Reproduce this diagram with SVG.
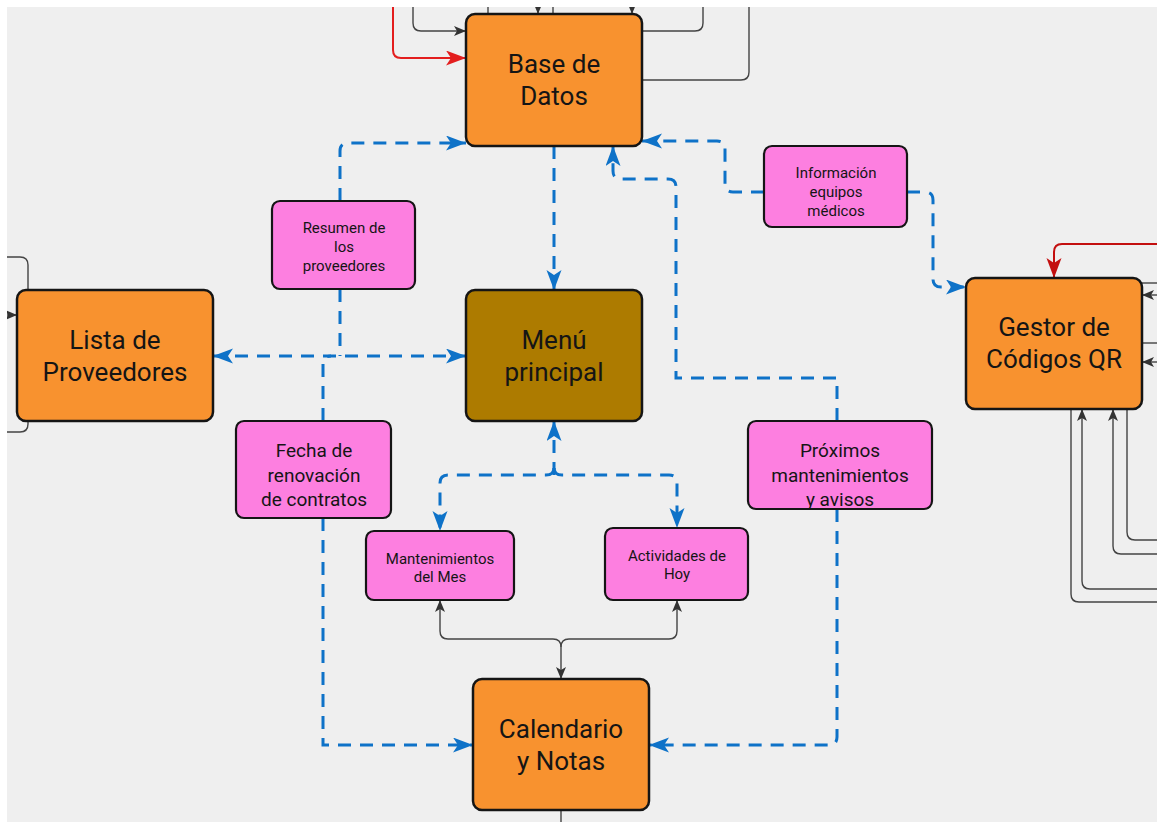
<svg xmlns="http://www.w3.org/2000/svg" width="1157" height="822" viewBox="0 0 1157 822">
  <style>
    .main { fill: #f8922f; stroke: #151515; stroke-width: 2.5; }
    .menu { fill: #ad7b00; stroke: #151515; stroke-width: 2.5; }
    .note { fill: #fd7fe0; stroke: #151515; stroke-width: 2.2; }
    .t-big { font-family: Roboto, "Liberation Sans", sans-serif; font-size: 26px; fill: #151515; text-anchor: middle; }
    .t-mid { font-family: Roboto, "Liberation Sans", sans-serif; font-size: 19px; fill: #151515; text-anchor: middle; }
    .t-sm { font-family: Roboto, "Liberation Sans", sans-serif; font-size: 15px; fill: #151515; text-anchor: middle; }
    .flow { fill: none; stroke: #0e72c8; stroke-width: 3; stroke-dasharray: 13 9; }
    .link { fill: none; stroke: #444; stroke-width: 1.4; }
    .red { fill: none; stroke: #e31e1e; stroke-width: 2; }
    .dred { fill: none; stroke: #c30f0f; stroke-width: 2; }
  </style>
  <defs>
    <marker id="ab" markerUnits="userSpaceOnUse" markerWidth="22" markerHeight="17" refX="20" refY="7.5" orient="auto-start-reverse">
      <path d="M0,0 L20,7.5 L0,15 L5,7.5 Z" fill="#0e72c8"/>
    </marker>
    <marker id="ak" markerUnits="userSpaceOnUse" markerWidth="13" markerHeight="11" refX="12" refY="5" orient="auto">
      <path d="M0,0 L12,5 L0,10 L3,5 Z" fill="#333"/>
    </marker>
    <marker id="ar" markerUnits="userSpaceOnUse" markerWidth="22" markerHeight="17" refX="20" refY="7.5" orient="auto">
      <path d="M0,0 L20,7.5 L0,15 L5,7.5 Z" fill="#e31e1e"/>
    </marker>
    <marker id="adr" markerUnits="userSpaceOnUse" markerWidth="22" markerHeight="17" refX="20" refY="7.5" orient="auto">
      <path d="M0,0 L20,7.5 L0,15 L5,7.5 Z" fill="#c30f0f"/>
    </marker>
    <clipPath id="canvas">
      <rect x="7" y="7" width="1150" height="815"/>
    </clipPath>
  </defs>

  <rect x="0" y="0" width="1157" height="822" fill="#ffffff"/>
  <rect x="7" y="7" width="1150" height="815" fill="#efefef"/>

  <g clip-path="url(#canvas)">
    <g id="connectors">
      <!-- dashed data flows -->
      <path class="flow" d="M554,146 V290" marker-end="url(#ab)"/>
      <path class="flow" d="M340,201 V151 Q340,143 348,143 H466" marker-end="url(#ab)"/>
      <path class="flow" d="M340,289 V356"/>
      <path class="flow" d="M213,356 H466" marker-start="url(#ab)" marker-end="url(#ab)"/>
      <path class="flow" d="M323,421 V364 Q323,356 331,356"/>
      <path class="flow" d="M323,518 V745 H473" marker-end="url(#ab)"/>
      <path class="flow" d="M837,509 V737 Q837,745 829,745 H649" marker-end="url(#ab)"/>
      <path class="flow" d="M837,421 V378 H676 V187 Q676,179 668,179 H621 Q613,179 613,171 V146" marker-end="url(#ab)"/>
      <path class="flow" d="M764,192 H733 Q725,192 725,184 V149 Q725,141 717,141 H642" marker-end="url(#ab)"/>
      <path class="flow" d="M907,192 H925 Q933,192 933,200 V279 Q933,287 941,287 H966" marker-end="url(#ab)"/>
      <path class="flow" d="M554,475 V421" marker-end="url(#ab)"/>
      <path class="flow" d="M554,468 Q554,475 546,475 H448 Q440,475 440,483 V531" marker-end="url(#ab)"/>
      <path class="flow" d="M554,468 Q554,475 562,475 H669 Q677,475 677,483 V528" marker-end="url(#ab)"/>

      <!-- thin links -->
      <path class="link" d="M561,647 Q561,639 553,639 H448 Q440,639 440,631 V600" marker-end="url(#ak)"/>
      <path class="link" d="M561,647 Q561,639 569,639 H669 Q677,639 677,631 V600" marker-end="url(#ak)"/>
      <path class="link" d="M561,647 V679" marker-end="url(#ak)"/>
      <path class="link" d="M561,810 V822"/>

      <path class="link" d="M413,7 V23 Q413,31 421,31 H466" marker-end="url(#ak)"/>
      <path class="red" d="M393,7 V50 Q393,58 401,58 H466" marker-end="url(#ar)"/>
      <path class="link" d="M488,14 V7"/>
      <path class="link" d="M538,7 V14" marker-end="url(#ak)"/>
      <path class="link" d="M553,14 V7"/>
      <path class="link" d="M632,7 V14" marker-end="url(#ak)"/>
      <path class="link" d="M642,31 H695 Q703,31 703,23 V7"/>
      <path class="link" d="M642,80 H741 Q749,80 749,72 V7"/>

      <path class="link" d="M7,257 H20 Q28,257 28,265 V290"/>
      <path class="link" d="M7,315 H17" marker-end="url(#ak)"/>
      <path class="link" d="M28,421 V424 Q28,432 20,432 H7"/>

      <path class="dred" d="M1157,244 H1062 Q1054,244 1054,252 V278" marker-end="url(#adr)"/>
      <path class="link" d="M1142,283 H1157"/>
      <path class="link" d="M1157,295 H1142" marker-end="url(#ak)"/>
      <path class="link" d="M1142,343 H1157"/>
      <path class="link" d="M1157,362 H1142" marker-end="url(#ak)"/>
      <path class="link" d="M1071,409 V594 Q1071,602 1079,602 H1157"/>
      <path class="link" d="M1157,589 H1090 Q1082,589 1082,581 V409" marker-end="url(#ak)"/>
      <path class="link" d="M1157,554 H1121 Q1113,554 1113,546 V409" marker-end="url(#ak)"/>
      <path class="link" d="M1127,409 V532 Q1127,540 1135,540 H1157"/>
    </g>

    <g id="base-datos">
      <rect class="main" x="466" y="14" width="176" height="132" rx="9"/>
      <text class="t-big" x="554" y="73">Base de</text>
      <text class="t-big" x="554" y="105">Datos</text>
    </g>
    <g id="menu-principal">
      <rect class="menu" x="466" y="290" width="176" height="131" rx="9"/>
      <text class="t-big" x="554" y="349">Menú</text>
      <text class="t-big" x="554" y="381">principal</text>
    </g>
    <g id="lista-proveedores">
      <rect class="main" x="17" y="290" width="196" height="131" rx="9"/>
      <text class="t-big" x="115" y="349">Lista de</text>
      <text class="t-big" x="115" y="381">Proveedores</text>
    </g>
    <g id="gestor-qr">
      <rect class="main" x="966" y="278" width="176" height="131" rx="9"/>
      <text class="t-big" x="1054" y="336">Gestor de</text>
      <text class="t-big" x="1054" y="368">Códigos QR</text>
    </g>
    <g id="calendario">
      <rect class="main" x="473" y="679" width="176" height="131" rx="9"/>
      <text class="t-big" x="561" y="738">Calendario</text>
      <text class="t-big" x="561" y="770">y Notas</text>
    </g>

    <g id="resumen-proveedores">
      <rect class="note" x="272" y="201" width="143" height="88" rx="8"/>
      <text class="t-sm" x="344" y="233">Resumen de</text>
      <text class="t-sm" x="344" y="252">los</text>
      <text class="t-sm" x="344" y="271">proveedores</text>
    </g>
    <g id="info-equipos">
      <rect class="note" x="764" y="146" width="143" height="81" rx="8"/>
      <text class="t-sm" x="836" y="178">Información</text>
      <text class="t-sm" x="836" y="197">equipos</text>
      <text class="t-sm" x="836" y="216">médicos</text>
    </g>
    <g id="fecha-renovacion">
      <rect class="note" x="236" y="421" width="155" height="97" rx="8"/>
      <text class="t-mid" x="314" y="457">Fecha de</text>
      <text class="t-mid" x="314" y="482">renovación</text>
      <text class="t-mid" x="314" y="506">de contratos</text>
    </g>
    <g id="proximos-mantenimientos">
      <rect class="note" x="748" y="421" width="184" height="88" rx="8"/>
      <text class="t-mid" x="840" y="457">Próximos</text>
      <text class="t-mid" x="840" y="482">mantenimientos</text>
      <text class="t-mid" x="840" y="506">y avisos</text>
    </g>
    <g id="mantenimientos-mes">
      <rect class="note" x="366" y="531" width="148" height="69" rx="8"/>
      <text class="t-sm" x="440" y="564">Mantenimientos</text>
      <text class="t-sm" x="440" y="582">del Mes</text>
    </g>
    <g id="actividades-hoy">
      <rect class="note" x="605" y="528" width="143" height="72" rx="8"/>
      <text class="t-sm" x="677" y="561">Actividades de</text>
      <text class="t-sm" x="677" y="579">Hoy</text>
    </g>
  </g>
</svg>
